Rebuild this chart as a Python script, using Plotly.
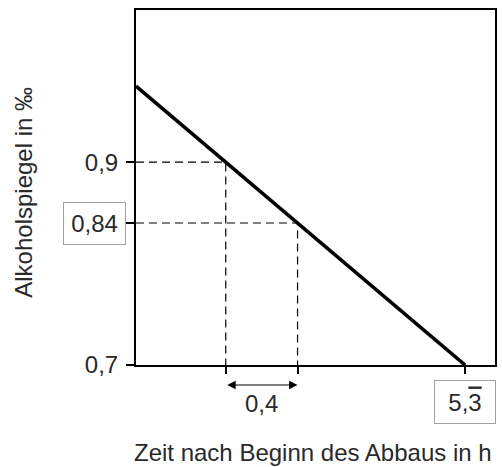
import plotly.graph_objects as go

# Data
time_h = [3.5, 4.0, 4.4, 16 / 3]          # Zeit nach Beginn des Abbaus in h
level = [0.975, 0.9, 0.84, 0.7]           # Alkoholspiegel in ‰

x_range = [3.5, 5.5]
y_range = [0.7, 1.05]

y_tickvals = [0.7, 0.84, 0.9]
y_ticktext = ["0,7", "", "0,9"]
x_tickvals = [4.0, 4.4, 16 / 3]
x_ticktext = ["", "", ""]

boxed_y_label = "0,84"
boxed_x_label = "5,<span style='text-decoration:overline'>3</span>"
delta_label = "0,4"
x_title = "Zeit nach Beginn des Abbaus in h"
y_title = "Alkoholspiegel in ‰"

FONT = "Liberation Sans, Arial, sans-serif"
TXT = "#2a2a2a"
FS = 24

fig = go.Figure()

# dashed helper lines for the two marked points
for xi, yi in [(time_h[1], level[1]), (time_h[2], level[2])]:
    fig.add_trace(go.Scatter(
        x=[x_range[0], xi, xi], y=[yi, yi, y_range[0]],
        mode="lines", line=dict(color="black", width=1.2, dash="8px,5px"),
        hoverinfo="skip", showlegend=False))

# main line
fig.add_trace(go.Scatter(
    x=[time_h[0], time_h[-1]], y=[level[0], level[-1]],
    mode="lines", line=dict(color="black", width=3.6),
    showlegend=False))

annotations = [
    # boxed y label 0,84
    dict(text=boxed_y_label, xref="paper", x=0, xanchor="center", xshift=-42,
         yref="y", y=y_tickvals[1], yanchor="middle", showarrow=False,
         font=dict(family=FONT, size=FS, color=TXT),
         bordercolor="#a0a0a0", borderwidth=1, borderpad=0, width=61, height=41),
    # boxed x label 5,3 (periodic)
    dict(text=boxed_x_label, xref="x", x=x_tickvals[2], xanchor="center",
         yref="paper", y=0, yanchor="middle", yshift=-37, showarrow=False,
         font=dict(family=FONT, size=FS, color=TXT),
         bordercolor="#a0a0a0", borderwidth=1, borderpad=0, width=60, height=42),
    # double arrow between 4.0 and 4.4
    dict(text="", xref="x", axref="x", x=time_h[2], ax=time_h[1],
         yref="y domain", ayref="y domain", y=-20 / 355, ay=-20 / 355,
         showarrow=True, arrowside="end+start", arrowhead=2, arrowsize=1.4,
         arrowwidth=1.2, arrowcolor="black", standoff=0, startstandoff=0),
    dict(text=delta_label, xref="x", x=(time_h[1] + time_h[2]) / 2,
         xanchor="center", yref="paper", y=-38 / 355, yanchor="middle",
         showarrow=False, font=dict(family=FONT, size=FS, color=TXT)),
    # axis titles
    dict(text=x_title, xref="paper", x=0.494, xanchor="center",
         yref="paper", y=-87 / 355, yanchor="middle", showarrow=False,
         font=dict(family=FONT, size=FS, color=TXT)),
    dict(text=y_title, xref="paper", x=-114 / 361, xanchor="center",
         yref="paper", y=0.487, yanchor="middle", showarrow=False,
         textangle=-90, font=dict(family=FONT, size=FS, color=TXT)),
]

fig.update_layout(
    width=502, height=467,
    margin=dict(l=136, r=5, t=10, b=102),
    paper_bgcolor="white", plot_bgcolor="white",
    annotations=annotations,
    font=dict(family=FONT, size=FS, color=TXT),
)

fig.update_xaxes(
    range=x_range, showgrid=False, zeroline=False,
    showline=True, linecolor="black", linewidth=2, mirror=True,
    tickmode="array", tickvals=x_tickvals, ticktext=x_ticktext,
    ticks="outside", ticklen=7, tickwidth=1.5, tickcolor="black",
)
fig.update_yaxes(
    range=y_range, showgrid=False, zeroline=False,
    showline=True, linecolor="black", linewidth=2, mirror=True,
    tickmode="array", tickvals=y_tickvals, ticktext=y_ticktext,
    ticks="outside", ticklen=8, tickwidth=1.5, tickcolor="black",
    tickfont=dict(family=FONT, size=FS, color=TXT), ticklabelstandoff=3,
)

fig.write_html(
    "out.html",
    config={"displayModeBar": False},
    post_script="document.body.style.margin='0px';",
)
